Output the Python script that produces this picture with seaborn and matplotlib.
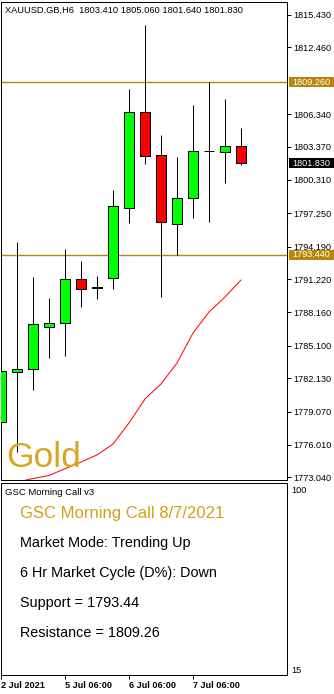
import matplotlib
matplotlib.use("Agg")
import matplotlib.pyplot as plt
import matplotlib.transforms as mtransforms
from matplotlib.patches import Rectangle
import seaborn as sns
import pandas as pd

# ---------------- data ----------------
chart_title = "XAUUSD.GB,H6  1803.410 1805.060 1801.640 1801.830"
opens  = [1778.14, 1782.74, 1782.94, 1786.85, 1787.22, 1791.22, 1790.45, 1791.27,
          1797.76, 1806.54, 1802.59, 1796.24, 1798.62, 1802.95, 1802.84, 1803.41]
highs  = [1783.80, 1794.62, 1791.41, 1789.48, 1793.97, 1792.87, 1791.50, 1799.38,
          1808.67, 1814.51, 1804.43, 1802.44, 1807.18, 1809.26, 1807.73, 1805.06]
lows   = [1773.89, 1775.39, 1781.05, 1784.01, 1784.19, 1788.66, 1789.39, 1790.33,
          1796.39, 1801.77, 1789.60, 1793.42, 1796.84, 1796.48, 1800.05, 1801.64]
closes = [1782.79, 1782.93, 1787.07, 1787.16, 1791.22, 1790.33, 1790.42, 1797.92,
          1806.54, 1802.47, 1796.48, 1798.62, 1802.96, 1802.92, 1803.39, 1801.83]
ma_values = [1772.20, 1772.60, 1772.93, 1773.21, 1773.82, 1774.44, 1775.09, 1776.09,
             1778.02, 1780.22, 1781.60, 1783.52, 1786.27, 1788.20, 1789.57, 1791.13]

price_ticks = [1815.43, 1812.46, 1806.34, 1803.37, 1800.31, 1797.25, 1794.19,
               1791.22, 1788.16, 1785.10, 1782.13, 1779.07, 1776.01, 1773.04]
resistance = 1809.26
support = 1793.44
last_price = 1801.83

date_tick_idx = [0, 4, 8, 12]
date_tick_labels = ["2 Jul 2021", "5 Jul 06:00", "6 Jul 06:00", "7 Jul 06:00"]

ind_ticks = [100, 15]
ind_tick_labels = ["100", "15"]

panel_title = "GSC Morning Call v3"
call_title = "GSC Morning Call 8/7/2021"
call_lines = ["Market Mode: Trending Up",
              "6 Hr Market Cycle (D%): Down",
              "Support = 1793.44",
              "Resistance = 1809.26"]
symbol_name = "Gold"

# ---------------- style ----------------
sns.set_theme(style="white")
plt.rcParams['font.family'] = ['Liberation Sans', 'DejaVu Sans']

W, H = 334, 694
DPI = 100
fig = plt.figure(figsize=(W / DPI, H / DPI), dpi=DPI)
fig.patch.set_facecolor("white")

PX = 72.0 / DPI  # points per pixel

def fx(x):
    return x / W

def fy(y):
    return 1 - y / H

# main price axes
ax = fig.add_axes([0.5 / W, (H - 479.5) / H, 286.8 / W, 477.5 / H])
# indicator axes
ax2 = fig.add_axes([0.5 / W, (H - 675) / H, 286.8 / W, 192.5 / H])

x0 = -0.5 / 16
x1 = x0 + 286.8 / 16
for a in (ax, ax2):
    a.set_facecolor("white")
    a.set_xlim(x0, x1)
    for s in a.spines.values():
        s.set_color("black")
        s.set_linewidth(1.0 * PX)

ax.set_ylim(1772.838, 1816.622)
ax2.set_ylim(12.167, 103.07)

df = pd.DataFrame({"idx": range(len(opens)), "open": opens, "high": highs,
                   "low": lows, "close": closes, "ma": ma_values})

# wicks
ax.vlines(df["idx"], df["low"], df["high"], color="black", lw=1.0 * PX, zorder=2)
# bodies
bottoms = [min(o, c) for o, c in zip(opens, closes)]
heights = [max(abs(c - o), 0.04) for o, c in zip(opens, closes)]
colors = ["#00FF00" if c >= o else "#FF0000" for o, c in zip(opens, closes)]
ax.bar(df["idx"], heights, bottom=bottoms, width=0.6, color=colors,
       edgecolor="black", linewidth=1.0 * PX, zorder=3)

# moving average
sns.lineplot(data=df, x="idx", y="ma", ax=ax, color="#FF0000", lw=1.0 * PX,
             zorder=4, legend=False)
ax.set_xlabel("")
ax.set_ylabel("")

# support / resistance
for lvl in (resistance, support):
    ax.axhline(lvl, color="#B8860B", lw=1.4 * PX, zorder=1)

# price axis
ax.yaxis.tick_right()
ax.set_yticks(price_ticks)
ax.set_yticklabels([f"{v:.3f}" for v in price_ticks])
ax.tick_params(axis="y", direction="out", length=4 * PX, width=1.0 * PX,
               pad=2 * PX, labelsize=6.6, colors="black", right=True, left=False)
ax.set_xticks([])

# highlight boxes on price axis
btr = mtransforms.blended_transform_factory(fig.transFigure, ax.transData)
box_h = 10.0 / 10.906
for lvl, fc in ((resistance, "#B8860B"), (support, "#B8860B"), (last_price, "black")):
    r = Rectangle((fx(289), lvl - box_h / 2), fx(45), box_h, transform=btr,
                  facecolor=fc, edgecolor="none", zorder=10, clip_on=False)
    fig.add_artist(r)
    fig.text(fx(292.5), lvl, f"{lvl:.3f}", transform=btr, color="white",
             fontsize=6.6, va="center", ha="left", zorder=11)

# titles
fig.text(fx(5), fy(13.3), chart_title, fontsize=6.7, color="black",
         va="baseline", ha="left")
fig.text(fx(6.5), fy(466.7), symbol_name, fontsize=25.5, color="#DAA520",
         va="baseline", ha="left")

# indicator pane
ax2.yaxis.tick_right()
ax2.set_yticks(ind_ticks)
ax2.set_yticklabels(ind_tick_labels)
ax2.tick_params(axis="y", direction="out", length=0, pad=4 * PX,
                labelsize=6.6, colors="black", right=True, left=False)
ax2.set_xticks(date_tick_idx)
ax2.set_xticklabels(date_tick_labels, ha="left")
ax2.tick_params(axis="x", direction="out", length=4 * PX, width=1.0 * PX,
                pad=1.5 * PX, labelsize=6.6, colors="black", bottom=True)
for lab in ax2.get_xticklabels():
    lab.set_fontweight("bold")

fig.text(fx(5), fy(495), panel_title, fontsize=6.8, color="black",
         va="baseline", ha="left")
fig.text(fx(20), fy(518.3), call_title, fontsize=12, color="#D4A017",
         va="baseline", ha="left")
for i, line in enumerate(call_lines):
    fig.text(fx(20), fy(547.3 + 30 * i), line, fontsize=10.4, color="black",
             va="baseline", ha="left")

fig.savefig("out.png", dpi=DPI, facecolor="white")
